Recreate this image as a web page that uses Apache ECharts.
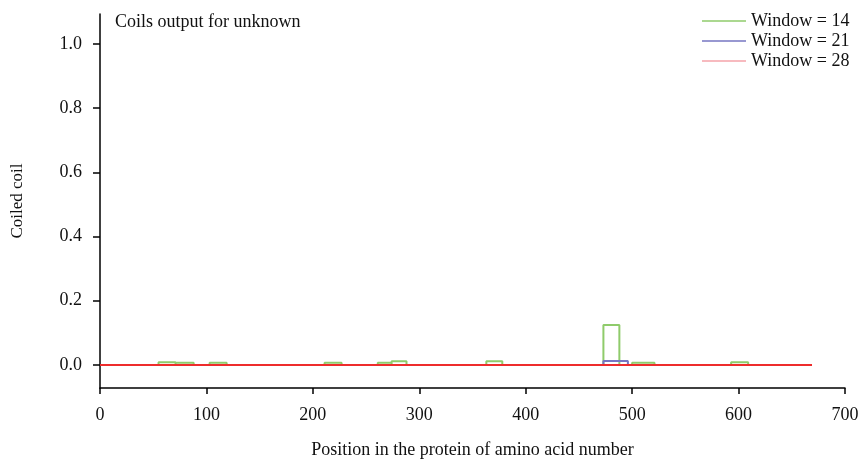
<!DOCTYPE html>
<html><head><meta charset="utf-8">
<script src="https://cdn.jsdelivr.net/npm/echarts@6/dist/echarts.min.js"></script>
<style>html,body{margin:0;padding:0;background:#fff}#c{width:861px;height:459px}</style>
</head><body><div id="c"></div>
<script>
// Data: segments [start, end, value] for each window, baseline 0 elsewhere
var proteinLength = 669;
var w14Start = [55, 71, 103, 211, 261, 274, 363, 473, 500, 593];
var w14End   = [71, 88, 119, 227, 274, 288, 378, 488, 521, 609];
var w14Val   = [0.008, 0.007, 0.007, 0.007, 0.007, 0.011, 0.011, 0.124, 0.007, 0.008];
var w21Start = [473];
var w21End   = [496];
var w21Val   = [0.012];
var w28Start = [];
var w28End   = [];
var w28Val   = [];
var yTicks = [0, 0.2, 0.4, 0.6, 0.8, 1.0];
var xTicks = [0, 100, 200, 300, 400, 500, 600, 700];
var seriesNames = ['Window = 14', 'Window = 21', 'Window = 28'];

function buildSteps(s, e, v) {
  var pts = [[0, 0]];
  for (var i = 0; i < s.length; i++) {
    pts.push([s[i], 0], [s[i], v[i]], [e[i], v[i]], [e[i], 0]);
  }
  pts.push([proteinLength, 0]);
  return pts;
}

var font = 'Liberation Serif';
var fs = 18;
var chart = echarts.init(document.getElementById('c'));
chart.setOption({
  animation: false,
  textStyle: {fontFamily: font},
  grid: {left: 100, right: 16, top: 14, bottom: 71, outerBoundsMode: 'none', containLabel: false},
  title: {
    text: 'Coils output for unknown', left: 110, top: 8,
    textStyle: {fontFamily: font, fontSize: fs, fontWeight: 'normal', color: '#111'}
  },
  legend: {
    orient: 'vertical', left: 697, top: 7,
    itemWidth: 44, itemHeight: 1.5, itemGap: 2,
    textStyle: {fontFamily: font, fontSize: fs, color: '#111'},
    data: [
      {name: seriesNames[0], icon: 'rect', itemStyle: {color: '#8fcb6b'}},
      {name: seriesNames[1], icon: 'rect', itemStyle: {color: '#7676c2'}},
      {name: seriesNames[2], icon: 'rect', itemStyle: {color: '#f5a3aa'}}
    ]
  },
  xAxis: {
    type: 'value', min: 0, max: 700, interval: 100,
    splitLine: {show: false},
    axisLine: {show: true, onZero: false, lineStyle: {color: '#000', width: 1.5}},
    axisTick: {show: true, length: 6, lineStyle: {color: '#000', width: 1.5}},
    axisLabel: {fontFamily: font, fontSize: fs, color: '#111', margin: 18},
    name: 'Position in the protein of amino acid number', nameLocation: 'middle', nameGap: 53,
    nameTextStyle: {fontFamily: font, fontSize: fs, color: '#111'}
  },
  yAxis: {
    type: 'value', min: -0.072, max: 1.093,
    splitLine: {show: false},
    axisLine: {show: true, onZero: false, lineStyle: {color: '#000', width: 1.5}},
    axisTick: {show: true, length: 7, customValues: yTicks, lineStyle: {color: '#000', width: 1.5}},
    axisLabel: {fontFamily: font, fontSize: fs, color: '#111', margin: 18, customValues: yTicks,
      formatter: function (v) { return v.toFixed(1); }},
    name: 'Coiled coil', nameLocation: 'middle', nameGap: 74,
    nameTextStyle: {fontFamily: font, fontSize: 17, color: '#111'}
  },
  series: [
    {name: seriesNames[0], type: 'line', symbol: 'none', data: buildSteps(w14Start, w14End, w14Val),
     lineStyle: {color: '#8fcb6b', width: 2}, itemStyle: {color: '#8fcb6b'}, z: 2},
    {name: seriesNames[1], type: 'line', symbol: 'none', data: buildSteps(w21Start, w21End, w21Val),
     lineStyle: {color: '#7676c2', width: 2}, itemStyle: {color: '#7676c2'}, z: 3},
    {name: seriesNames[2], type: 'line', symbol: 'none', data: buildSteps(w28Start, w28End, w28Val),
     lineStyle: {color: '#ee2c2c', width: 2}, itemStyle: {color: '#ee2c2c'}, z: 4}
  ]
});
</script>
</body></html>
